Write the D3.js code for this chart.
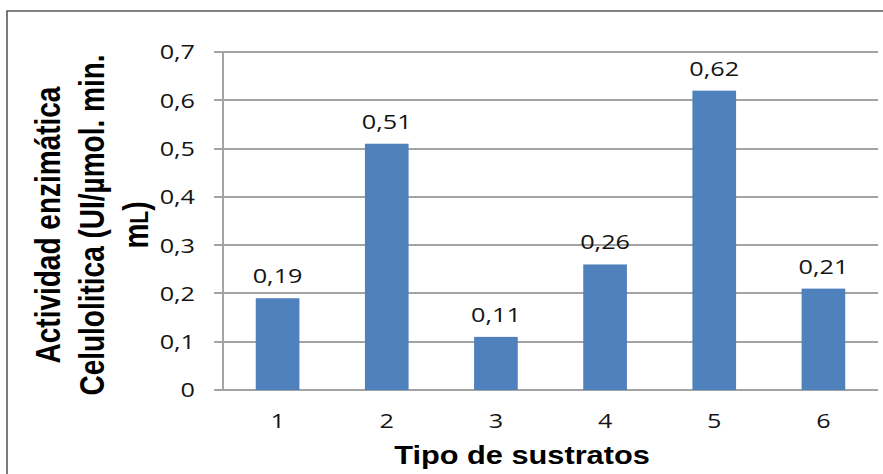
<!DOCTYPE html>
<html>
<head>
<meta charset="utf-8">
<script src="https://cdn.jsdelivr.net/npm/d3@7"></script>
<style>
  html, body { margin: 0; padding: 0; background: #fff; }
  svg { display: block; }
</style>
</head>
<body>
<svg id="chart" width="883" height="474"></svg>
<script>
// Substrate types and measured cellulolytic activity
const categories = ["1", "2", "3", "4", "5", "6"];
const activity = [0.19, 0.51, 0.11, 0.26, 0.62, 0.21];
const yTicks = [0, 0.1, 0.2, 0.3, 0.4, 0.5, 0.6, 0.7];
const yTitleLines = ["Actividad enzimática", "Celulolitica (UI/\u00b5mol. min.", "mL)"];
const xTitle = "Tipo de sustratos";

const W = 883, H = 474;
const SX = 1.23;              // horizontal stretch applied to all lettering
const numFont = "'Open Sans', 'DejaVu Sans', sans-serif";
const titleFont = "'Liberation Sans', Arial, sans-serif";
const comma = d3.formatLocale({ decimal: ",", thousands: ".", grouping: [3], currency: ["", ""] });
const fmt = v => (v === 0 ? "0" : comma.format(".2~f")(v));

const svg = d3.select("#chart");
const plot = { left: 223, right: 878, top: 52, bottom: 390 };

const x = d3.scaleBand()
  .domain(categories)
  .range([plot.left, plot.right])
  .paddingInner(0.6)
  .paddingOuter(0.3);

const y = d3.scaleLinear()
  .domain([0, 0.7])
  .range([plot.bottom, plot.top]);

// outer frame (left and top edges)
svg.append("path")
  .attr("d", `M7,${H} V11 H${W}`)
  .attr("fill", "none")
  .attr("stroke", "#5a5a5a")
  .attr("stroke-width", 1.6);

// horizontal gridlines with outward tick marks
svg.append("g")
  .selectAll("line")
  .data(yTicks)
  .join("line")
  .attr("x1", plot.left - 9)
  .attr("x2", plot.right)
  .attr("y1", d => Math.round(y(d)))
  .attr("y2", d => Math.round(y(d)))
  .attr("stroke", "#a3a3a3")
  .attr("stroke-width", 2);

// value axis line
svg.append("line")
  .attr("x1", plot.left).attr("x2", plot.left)
  .attr("y1", y(0.7)).attr("y2", y(0))
  .attr("stroke", "#a3a3a3")
  .attr("stroke-width", 2);

// bars
svg.append("g")
  .selectAll("rect")
  .data(activity)
  .join("rect")
  .attr("x", (d, i) => x(categories[i]))
  .attr("width", x.bandwidth())
  .attr("y", d => y(d))
  .attr("height", d => y(0) - y(d))
  .attr("fill", "#4f81bd");

// helper: text stretched horizontally around its anchor point
function stretchedText(parent, px, py, str, opts) {
  const g = parent.append("g")
    .attr("transform", `translate(${px},${py}) scale(${SX},1)`);
  return g.append("text")
    .attr("text-anchor", opts.anchor || "middle")
    .attr("font-family", opts.font || numFont)
    .attr("font-size", opts.size || 20.5)
    .attr("font-weight", opts.weight || "normal")
    .attr("fill", opts.fill || "#141414")
    .attr("dy", opts.dy || 0)
    .text(str);
}

// y tick labels
const yLab = svg.append("g");
yTicks.forEach(t => {
  stretchedText(yLab, 195, y(t), fmt(t), { anchor: "end", dy: "0.36em" });
});

// x tick labels
const xLab = svg.append("g");
categories.forEach(c => {
  stretchedText(xLab, x(c) + x.bandwidth() / 2, 428, c, {});
});

// data labels above bars
const dLab = svg.append("g");
activity.forEach((v, i) => {
  const c = categories[i];
  stretchedText(dLab, x(c) + x.bandwidth() / 2, y(v) - 15, fmt(v), {});
});

// x axis title
stretchedText(svg, 522, 464, xTitle, { font: titleFont, size: 25, weight: "bold", fill: "#000" });

// y axis title: three rotated lines
const yTitleX = [60, 104, 148];
yTitleLines.forEach((line, i) => {
  const g = svg.append("g")
    .attr("transform", `translate(${yTitleX[i]},225) rotate(-90) scale(1,${SX})`);
  const t = g.append("text")
    .attr("text-anchor", "middle")
    .attr("font-family", titleFont)
    .attr("font-size", 28)
    .attr("font-weight", "bold")
    .attr("fill", "#000");
  if (line === "mL)") {
    t.append("tspan").text("m");
    t.append("tspan").attr("font-size", 21).text("L");
    t.append("tspan").text(")");
  } else {
    t.text(line);
  }
});
</script>
</body>
</html>
